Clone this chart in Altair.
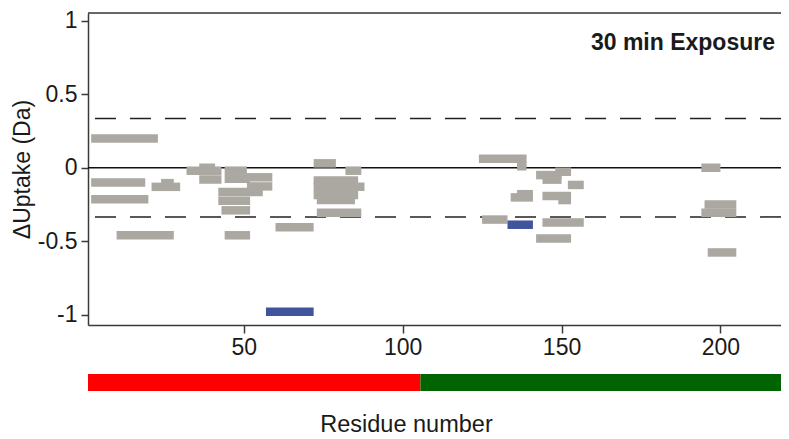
import altair as alt
import pandas as pd

# ---- data ----
pep_start = [2, 2, 2, 21, 24, 10, 32, 36, 36, 44, 44, 51, 51, 42, 42, 43, 44, 60,
             72, 82, 72, 72, 72, 73, 73,
             124, 136, 142, 144, 148, 152, 134, 136, 144, 149, 125, 144, 142,
             194, 195, 194, 196,
             57, 133]
pep_end = [23, 19, 20, 30, 28, 28, 43, 41, 43, 51, 52, 59, 59, 56, 52, 52, 52, 72,
           79, 87, 86, 88, 86, 85, 87,
           139, 139, 150, 150, 153, 157, 141, 141, 153, 153, 133, 157, 153,
           200, 205, 205, 205,
           72, 141]
pep_value = [0.20, -0.10, -0.215, -0.13, -0.105, -0.46, -0.02, 0.0, -0.08, -0.02, -0.075,
             -0.065, -0.127, -0.166, -0.225, -0.29, -0.46, -0.405,
             0.03, -0.02, -0.086, -0.13, -0.185, -0.22, -0.307,
             0.062, 0.011, -0.05, -0.081, -0.027, -0.117, -0.202, -0.18, -0.193, -0.22,
             -0.353, -0.373, -0.482,
             0.0, -0.25, -0.307, -0.577,
             -0.98, -0.388]
pep_state = ["ns"] * 42 + ["sig", "sig"]

threshold_levels = [0.335, -0.335]

domain_names = ["N-terminal", "C-terminal"]
domain_start = [1, 105.6]
domain_end = [105.6, 219.06]

x_ticks = [50, 100, 150, 200]
y_ticks = [-1, -0.5, 0, 0.5, 1]
panel_title = ["30 min Exposure"]

FONT = "Liberation Sans"
W, H = 693, 312

peps = pd.DataFrame({"start": pep_start, "end": pep_end, "value": pep_value, "state": pep_state})
thr = pd.DataFrame({"level": threshold_levels})
dom = pd.DataFrame({"name": domain_names, "start": domain_start, "end": domain_end})
ttl = pd.DataFrame({"label": panel_title})

xscale = alt.Scale(domain=[1, 219.06], nice=False, zero=False)
yscale = alt.Scale(domain=[-1.037, 1.02], nice=False, zero=False)

x_axis = alt.Axis(values=x_ticks, format="d", grid=False, tickSize=8, tickWidth=1.5,
                  tickColor="#3a3a3a", domainColor="#3a3a3a", domainWidth=1.5,
                  labelFontSize=23, labelFont=FONT, labelColor="#1a1a1a", labelPadding=3,
                  title="Residue number", titleFont=FONT, titleFontSize=23.5,
                  titleFontWeight="normal", titleColor="#1a1a1a",
                  titleX=318, titleY=99, titleBaseline="middle", titleAlign="center")
y_axis = alt.Axis(values=y_ticks, labelExpr="'' + datum.value", grid=False, tickSize=7,
                  tickWidth=1.5, tickColor="#3a3a3a", domainColor="#3a3a3a", domainWidth=1.5,
                  labelFontSize=23, labelFont=FONT, labelColor="#1a1a1a", labelPadding=4,
                  title="ΔUptake (Da)", titleFont=FONT, titleFontSize=23,
                  titleFontWeight="normal", titleColor="#1a1a1a",
                  titleAngle=270, titleX=-66, titleY=156, titleBaseline="middle",
                  titleAlign="center")

base_axes = alt.Chart(peps).mark_point(opacity=0).encode(
    x=alt.X("start:Q", scale=xscale, axis=x_axis),
    y=alt.Y("value:Q", scale=yscale, axis=y_axis),
)

top_line = alt.Chart(ttl).mark_rule(color="#3a3a3a", strokeWidth=1.5).encode(
    y=alt.value(0), x=alt.value(0), x2=alt.value(W))

zero_line = alt.Chart(ttl).mark_rule(color="#111111", strokeWidth=1.5).encode(
    y=alt.datum(0, scale=yscale))

dashed = alt.Chart(thr).mark_rule(color="#222222", strokeWidth=1.5, strokeDash=[21, 14]).encode(
    y=alt.Y("level:Q", scale=yscale))

bars = alt.Chart(peps).mark_bar(orient="horizontal", size=8.5).encode(
    x=alt.X("start:Q", scale=xscale),
    x2="end:Q",
    y=alt.Y("value:Q", scale=yscale),
    color=alt.Color("state:N", scale=alt.Scale(domain=["ns", "sig"], range=["#aba8a2", "#41539b"]),
                    legend=None),
)

domain_bar = alt.Chart(dom).mark_rect(clip=False).encode(
    x=alt.X("start:Q", scale=xscale),
    x2="end:Q",
    y=alt.value(361),
    y2=alt.value(378),
    color=alt.Color("name:N", scale=alt.Scale(domain=domain_names, range=["#ff0000", "#006400"]),
                    legend=None),
)

label = alt.Chart(ttl).mark_text(align="right", baseline="middle", font=FONT, fontSize=23,
                                  fontWeight="bold", color="#1a1a1a").encode(
    x=alt.value(687), y=alt.value(30), text="label:N")

chart = alt.layer(base_axes, top_line, zero_line, dashed, bars, domain_bar, label).resolve_scale(
    color="independent"
).properties(
    width=W, height=H,
    autosize=alt.AutoSizeParams(type="none"),
    padding={"left": 80, "top": 5, "right": 0, "bottom": 112},
).configure_view(strokeWidth=0).configure(background="white")

chart.save("out.html", embed_options={"renderer": "svg", "actions": False})
